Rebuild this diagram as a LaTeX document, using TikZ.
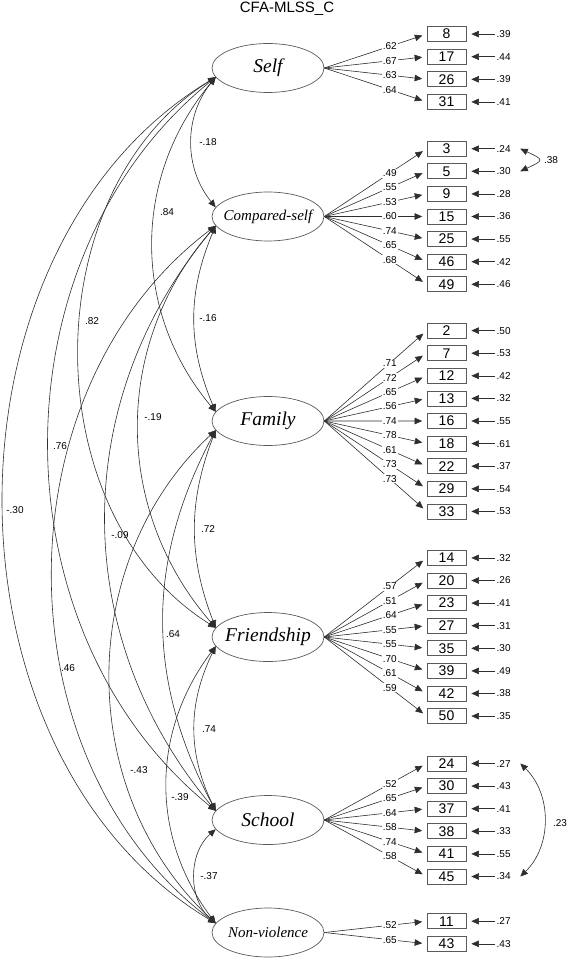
\documentclass[tikz,border=0pt]{standalone}
\usepackage{fontspec}
\setmainfont{Liberation Sans}
\newfontfamily\factorfont{Liberation Serif}
\usetikzlibrary{positioning, arrows.meta, shapes.geometric, calc}
\definecolor{inkgray}{HTML}{2E2E2E}
\definecolor{edgegray}{HTML}{5A5A5A}
\tikzset{
  factor/.style     = {ellipse, draw=edgegray, line width=0.7pt, minimum width=112pt, minimum height=49pt,
                       inner xsep=-10pt, inner ysep=0pt, font=\factorfont\itshape\fontsize{19.5}{20}\selectfont},
  smallfactor/.style = {factor, font=\factorfont\itshape\fontsize{15}{16}\selectfont},
  itembox/.style    = {rectangle, draw=edgegray, line width=0.7pt, minimum width=39pt, minimum height=15pt,
                       inner sep=0pt, font=\fontsize{14}{14}\selectfont},
  errlab/.style     = {anchor=west, inner sep=1.5pt, font=\fontsize{10}{10}\selectfont},
  ldlab/.style      = {pos=0.64, fill=white, inner sep=1pt, font=\fontsize{10}{10}\selectfont},
  corlab/.style     = {inner sep=1pt, font=\fontsize{10}{10}\selectfont},
  titletext/.style  = {font=\fontsize{15}{15}\selectfont},
  load/.style       = {line width=0.6pt, draw=inkgray, -{Triangle[length=7.5pt, width=6.5pt]}, shorten >=4.5pt},
  cov/.style        = {line width=0.6pt, draw=inkgray,
                       {Triangle[length=7.5pt, width=6.5pt]}-{Triangle[length=7.5pt, width=6.5pt]}},
}

\begin{document}
\begin{tikzpicture}[x=1pt, y=1pt]
\useasboundingbox (0,0) rectangle (567,-960);

% =============== TITLE ===============
\node (title) [titletext] at (287,-9) {CFA-MLSS\_C};

% =============== LATENT FACTORS ===============
\node (self) [factor]      at (268,-68)    {Self};
\node (comp) [smallfactor] at (268,-216.5) {Compared-self};
\node (fam)  [factor]      at (268,-421)   {Family};
\node (fri)  [factor]      at (268,-637)   {Friendship};
\node (sch)  [factor]      at (268,-820)   {School};
\node (nv)   [smallfactor] at (268,-932.5) {Non-violence};

% =============== ITEMS, LOADINGS, ERRORS ===============
% item / loading / error variance, top to bottom
\foreach \itm/\lam/\res [count=\c] in {8/.62/.39, 17/.67/.44, 26/.63/.39, 31/.64/.41}{
  \node (b\itm) [itembox] at (446.5,{-34.1-22.6*(\c-1)}) {\itm};
  \node (e\itm) [errlab]  at (495,{-34.1-22.6*(\c-1)})   {\res};
  \draw[load] (self.east) -- node[ldlab] {\lam} (b\itm.west);
  \draw[load, shorten >=5pt] (e\itm.west) -- (b\itm.east);
}
\foreach \itm/\lam/\res [count=\c] in {3/.49/.24, 5/.55/.30, 9/.53/.28, 15/.60/.36, 25/.74/.55, 46/.65/.42, 49/.68/.46}{
  \node (b\itm) [itembox] at (446.5,{-148.7-22.6*(\c-1)}) {\itm};
  \node (e\itm) [errlab]  at (495,{-148.7-22.6*(\c-1)})   {\res};
  \draw[load] (comp.east) -- node[ldlab] {\lam} (b\itm.west);
  \draw[load, shorten >=5pt] (e\itm.west) -- (b\itm.east);
}
\foreach \itm/\lam/\res [count=\c] in {2/.71/.50, 7/.72/.53, 12/.65/.42, 13/.56/.32, 16/.74/.55, 18/.78/.61, 22/.61/.37, 29/.73/.54, 33/.73/.53}{
  \node (b\itm) [itembox] at (446.5,{-330.6-22.6*(\c-1)}) {\itm};
  \node (e\itm) [errlab]  at (495,{-330.6-22.6*(\c-1)})   {\res};
  \draw[load] (fam.east) -- node[ldlab] {\lam} (b\itm.west);
  \draw[load, shorten >=5pt] (e\itm.west) -- (b\itm.east);
}
\foreach \itm/\lam/\res [count=\c] in {14/.57/.32, 20/.51/.26, 23/.64/.41, 27/.55/.31, 35/.55/.30, 39/.70/.49, 42/.61/.38, 50/.59/.35}{
  \node (b\itm) [itembox] at (446.5,{-557.9-22.6*(\c-1)}) {\itm};
  \node (e\itm) [errlab]  at (495,{-557.9-22.6*(\c-1)})   {\res};
  \draw[load] (fri.east) -- node[ldlab] {\lam} (b\itm.west);
  \draw[load, shorten >=5pt] (e\itm.west) -- (b\itm.east);
}
\foreach \itm/\lam/\res [count=\c] in {24/.52/.27, 30/.65/.43, 37/.64/.41, 38/.58/.33, 41/.74/.55, 45/.58/.34}{
  \node (b\itm) [itembox] at (446.5,{-763.5-22.6*(\c-1)}) {\itm};
  \node (e\itm) [errlab]  at (495,{-763.5-22.6*(\c-1)})   {\res};
  \draw[load] (sch.east) -- node[ldlab] {\lam} (b\itm.west);
  \draw[load, shorten >=5pt] (e\itm.west) -- (b\itm.east);
}
\foreach \itm/\lam/\res [count=\c] in {11/.52/.27, 43/.65/.43}{
  \node (b\itm) [itembox] at (446.5,{-921.2-22.6*(\c-1)}) {\itm};
  \node (e\itm) [errlab]  at (495,{-921.2-22.6*(\c-1)})   {\res};
  \draw[load] (nv.east) -- node[ldlab] {\lam} (b\itm.west);
  \draw[load, shorten >=5pt] (e\itm.west) -- (b\itm.east);
}

% =============== FACTOR COVARIANCES ===============
\foreach \a/\b/\ang in {self/comp/39, self/fam/40, self/fri/58, self/sch/51, self/nv/59,
                        comp/fam/23, comp/fri/41, comp/sch/40, comp/nv/53,
                        fam/fri/21, fam/sch/28, fam/nv/47,
                        fri/sch/26, fri/nv/37,
                        sch/nv/49}
  \draw[cov] (\a.190) to[bend right=\ang] (\b.170);

\foreach \v/\x/\y [count=\k] in {-.18/208/142, .84/167/212, -.16/208/318, .82/92/321, -.19/153/417,
                                 .76/60/446, -.30/15/510, -.09/120/535, .72/208/529, .64/173/634,
                                 .46/68/668, .74/209/729, -.43/139/770, -.39/180/797, -.37/209/876}
  \node (r\k) [corlab] at (\x,-\y) {\v};

% =============== ERROR COVARIANCES ===============
\draw[cov] ([xshift=8pt]e3.east) to[out=-25, in=25, looseness=3] ([xshift=8pt]e5.east);
\node (r38) [corlab] at (551,-160) {.38};
\draw[cov] ([xshift=8pt]e24.east) to[bend left=46] ([xshift=8pt]e45.east);
\node (r23) [corlab] at (560,-823) {.23};

\end{tikzpicture}
\end{document}
